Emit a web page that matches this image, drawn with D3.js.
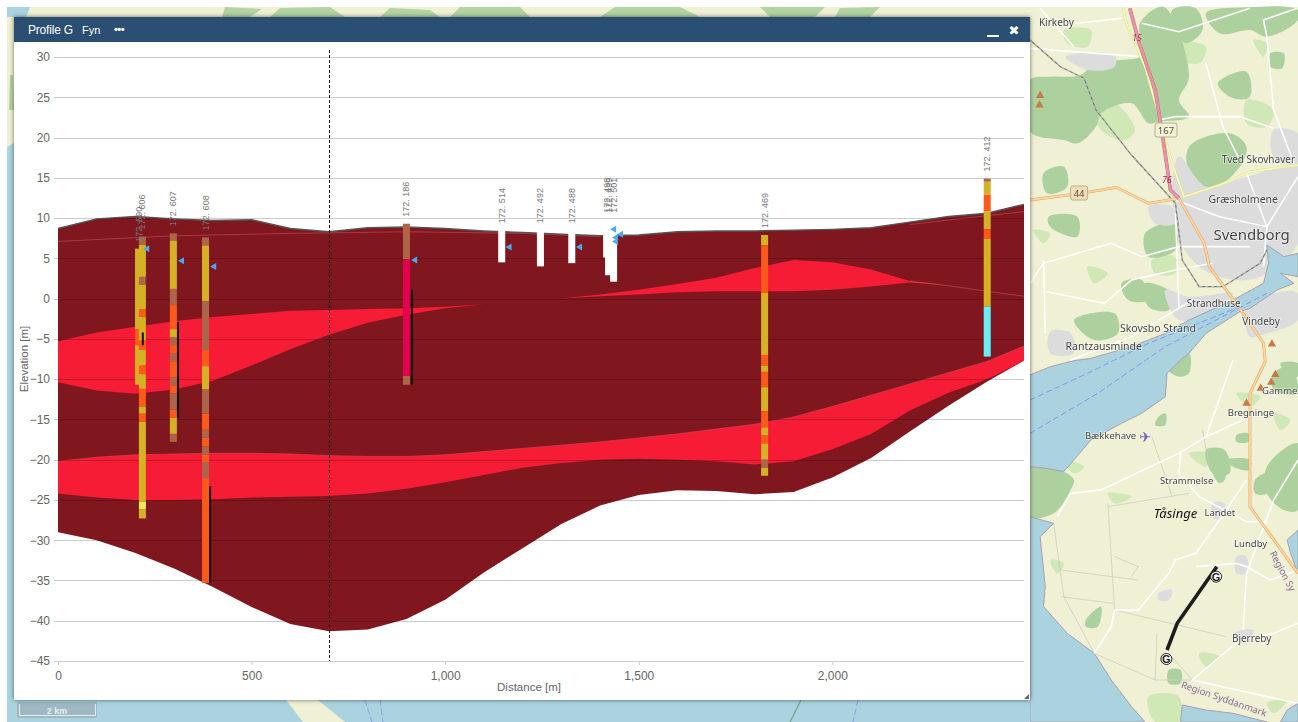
<!DOCTYPE html>
<html>

<head>
    <meta charset="utf-8">
    <title>Profile G Fyn</title>
    <script src="https://d3js.org/d3.v7.min.js" charset="utf-8"></script>
    <style>
        html,
        body {
            margin: 0;
            padding: 0;
            background: #fff;
            overflow: hidden;
        }

        svg {
            display: block;
            font-family: "Liberation Sans", Arial, sans-serif;
        }
    </style>
</head>

<body>
    <div id="chart"></div>

    <script>
        // ---- profile data, elevations in metres ----
        const distances = [0, 100, 200, 300, 400, 500, 600, 700, 800, 900, 1000, 1100, 1200, 1300, 1400, 1500, 1600, 1700, 1800, 1900, 2000, 2100, 2200, 2300, 2400, 2495];
        const surfaceElev = [8.7, 9.9, 10.2, 9.9, 9.7, 9.8, 8.7, 8.3, 8.8, 8.9, 8.7, 8.4, 8.2, 8.0, 7.8, 7.9, 8.3, 8.4, 8.4, 8.5, 8.6, 8.8, 9.5, 10.2, 10.6, 11.7];
        const baseElev = [-29, -30, -31.6, -33.5, -35.8, -38.3, -40.4, -41.3, -41.1, -39.8, -37.4, -34, -31, -28, -25.7, -24.4, -23.8, -23.9, -24.3, -24, -22.2, -19.8, -16.5, -13.3, -10.3, -7.7];
        const upperLensTop = [-5.3, -4.2, -3.5, -2.8, -2.3, -1.9, -1.5, -1.4, -1.3, -1.2, -1, -0.7, -0.3, 0, 0.5, 1.1, 1.8, 2.6, 3.8, 4.8, 4.5, 3.6, 2.2, 1.6, 0.9, 0.3];
        const upperLensBottom = [-10.4, -11.4, -11.8, -11.3, -10.2, -8.3, -6.3, -4.5, -3, -2, -1.2, -0.7, -0.3, 0, 0.3, 0.5, 0.8, 0.9, 0.9, 0.9, 1.1, 1.5, 2.0, 1.6, 0.9, 0.3];
        const lowerLensTop = [-20.2, -19.7, -19.4, -19.3, -19.2, -19.2, -19.3, -19.5, -19.6, -19.6, -19.4, -19, -18.6, -18.2, -17.8, -17.3, -16.8, -16.2, -15.6, -14.7, -13.4, -12, -10.6, -9.2, -7.8, -5.9];
        const lowerLensBottom = [-24.2, -24.7, -25, -25, -24.9, -24.7, -24.6, -24.5, -24.2, -23.6, -22.8, -21.9, -21, -20.4, -20, -19.9, -20, -20.2, -20.6, -20.2, -18.7, -16.8, -13.9, -11.7, -10, -7.7];

        // faint layer seams inside the dark unit
        const seamDistances = [0, 300, 600, 900, 1200, 1400];
        const seamElev = [7.1, 7.8, 8.1, 8.3, 8.1, 7.7];
        const eastSeamDistances = [2200, 2400, 2495];
        const eastSeamElev = [9.2, 10.3, 10.8];

        const xTicks = [0, 500, 1000, 1500, 2000];
        const yTicks = [30, 25, 20, 15, 10, 5, 0, -5, -10, -15, -20, -25, -30, -35, -40, -45];
        const cursorDistance = 700;

        // boreholes: levels are the interval boundaries, one soil code per interval
        const bh590Levels = [6.2, -3.8, -5.8, -10.7];
        const bh590Soils = ["Y", "O", "Y"];
        const bh606Levels = [7.7, 6.65, 2.7, 1.7, -1.3, -2.3, -5.2, -6.4, -8.3, -9.4, -11.2, -13.4, -14.3, -15.3, -25.2, -26.2, -27.3];
        const bh606Soils = ["B", "Y", "B", "Y", "O", "Y", "O", "Y", "O", "Y", "O", "Y", "O", "Y", "P", "Y"];
        const bh607Levels = [8.1, 7.2, 1.2, -0.8, -3.8, -4.8, -5.8, -6.8, -7.8, -9.8, -10.8, -11.8, -13.8, -14.8, -16.8, -17.8];
        const bh607Soils = ["B", "Y", "B", "O", "Y", "B", "O", "B", "O", "B", "O", "B", "O", "Y", "B"];
        const bh608Levels = [7.6, 6.6, -0.3, -6.4, -8.4, -11.3, -14.3, -16.3, -17.3, -18.4, -19.4, -20.3, -22.3, -35.3];
        const bh608Soils = ["B", "Y", "B", "O", "Y", "B", "O", "B", "O", "B", "O", "B", "O"];
        const bh186Levels = [9.3, 4.9, -9.6, -10.7];
        const bh186Soils = ["B", "M", "B"];
        const bh469Levels = [7.9, 6.6, 0.7, -7, -8.3, -9.1, -11, -14, -16, -17, -18, -20, -21, -22];
        const bh469Soils = ["Y", "O", "Y", "O", "Y", "O", "Y", "O", "Y", "O", "Y", "B", "Y"];
        const bh412Levels = [14.9, 14.5, 12.9, 10.8, 8.6, 7.4, -1, -7.2];
        const bh412Soils = ["B", "Y", "O", "Y", "O", "Y", "C"];

        const boreholes = [
            { name: "172. 590", dist: 208, levels: bh590Levels, soils: bh590Soils },
            { name: "172. 606", dist: 218, levels: bh606Levels, soils: bh606Soils },
            { name: "172. 607", dist: 298, levels: bh607Levels, soils: bh607Soils },
            { name: "172. 608", dist: 381, levels: bh608Levels, soils: bh608Soils },
            { name: "172. 186", dist: 900, levels: bh186Levels, soils: bh186Soils },
            { name: "172. 514", dist: 1146, levels: [8.5, 4.5], soils: ["W"] },
            { name: "172. 492", dist: 1246, levels: [8.5, 4.0], soils: ["W"] },
            { name: "172. 488", dist: 1327, levels: [8.5, 4.4], soils: ["W"] },
            { name: "172. 498", dist: 1417, levels: [9.8, 5.1], soils: ["W"] },
            { name: "172. 499", dist: 1422, levels: [9.8, 2.9], soils: ["W"] },
            { name: "172. 501", dist: 1435, levels: [9.8, 2.1], soils: ["W"] },
            { name: "172. 469", dist: 1825, levels: bh469Levels, soils: bh469Soils },
            { name: "172. 412", dist: 2400, levels: bh412Levels, soils: bh412Soils }
        ];

        // screens drawn as thin black bars next to the columns
        const screenDist = [219, 310, 393, 914];
        const screenTop = [-4.2, -2.9, -23.3, 1.1];
        const screenBottom = [-5.8, -14.8, -35.3, -10.7];

        // water levels (blue markers)
        const waterDist = [220, 310, 393, 912, 1156, 1338, 1426, 1431, 1444, 1431];
        const waterElev = [6.2, 4.7, 4.0, 4.8, 6.4, 6.4, 8.6, 7.6, 8.0, 7.1];

        const soilColors = { Y: "#d4b224", O: "#fa5a1a", B: "#ac6549", M: "#e2004f", C: "#66f0f6", P: "#f6e75a", W: "#ffffff" };

        // ---- background map, in the units of the map sheet (792 wide, 2166 high) ----
        const seaPolys = [
            [[0, 1125], [60, 1100], [130, 1082], [180, 1075], [300, 1040], [400, 1000], [470, 960], [600, 900], [690, 850], [705, 790], [700, 735], [750, 770], [792, 760], [792, 830], [740, 820], [780, 850], [730, 870], [650, 925], [620, 935], [520, 1000], [470, 1060], [445, 1080], [405, 1120], [400, 1190], [330, 1240], [270, 1270], [180, 1320], [100, 1415], [50, 1405], [0, 1400]],
            [[0, 1550], [70, 1570], [30, 1610], [45, 1760], [40, 1820], [110, 1900], [190, 1960], [240, 2040], [300, 2120], [340, 2166], [0, 2166]],
            [[445, 2166], [450, 2115], [520, 2130], [600, 2140], [700, 2166]],
            [[792, 2110], [760, 2130], [740, 2166], [792, 2166]],
            [[792, 1720], [770, 1660], [760, 1620], [792, 1590]]
        ];
        const forestPolys = [
            [[60, 230], [150, 225], [200, 180], [270, 180], [330, 165], [325, 70], [395, 20], [470, 230], [440, 300], [470, 350], [380, 365], [350, 370], [300, 310], [210, 340], [195, 380], [140, 430], [100, 420], [0, 395], [0, 240]],
            [[420, 30], [490, 25], [510, 90], [460, 130], [430, 90]],
            [[520, 40], [640, 22], [792, 30], [792, 60], [700, 110], [650, 90], [560, 100]],
            [[555, 250], [640, 215], [650, 290], [600, 295]],
            [[470, 440], [590, 400], [640, 440], [620, 500], [570, 550], [500, 590], [470, 530]],
            [[100, 500], [40, 520], [50, 580], [110, 560]],
            [[55, 650], [140, 650], [140, 710], [60, 680]],
            [[340, 700], [425, 670], [430, 750], [350, 770]],
            [[270, 850], [330, 840], [350, 900], [290, 900]],
            [[340, 850], [420, 880], [410, 930], [350, 920]],
            [[130, 960], [250, 940], [260, 1000], [190, 1020]],
            [[710, 160], [750, 160], [745, 205], [710, 200]],
            [[0, 1400], [100, 1415], [130, 1440], [120, 1470], [70, 1540], [0, 1550]],
            [[410, 1110], [470, 1060], [470, 1120], [440, 1130]],
            [[540, 1395], [580, 1390], [575, 1440], [560, 1450], [540, 1420]],
            [[580, 1380], [650, 1380], [650, 1410], [600, 1400]],
            [[700, 1400], [792, 1330], [792, 1530], [750, 1530], [700, 1480]],
            [[665, 1440], [700, 1420], [700, 1480], [665, 1480]],
            [[165, 1860], [210, 1820], [200, 1880], [165, 1880]],
            [[410, 2010], [445, 2010], [445, 2050], [410, 2050]],
            [[380, 1250], [400, 1240], [400, 1275], [370, 1275]],
            [[610, 1305], [645, 1300], [645, 1325], [610, 1325]],
            [[720, 1120], [770, 1100], [790, 1180], [720, 1170]],
            [[520, 1350], [575, 1350], [590, 1420], [540, 1420]],
            [[740, 1090], [792, 1090], [792, 1130], [760, 1120]]
        ];
        const meadowPolys = [
            [[190, 320], [250, 310], [310, 390], [280, 420], [210, 390]],
            [[640, 300], [720, 330], [700, 380], [640, 370]],
            [[100, 90], [180, 90], [170, 140], [110, 130]],
            [[360, 780], [430, 770], [430, 820], [370, 820]],
            [[350, 2090], [440, 2090], [440, 2166], [370, 2166]],
            [[230, 1480], [300, 1490], [250, 1510]],
            [[470, 1360], [530, 1360], [520, 1400]],
            [[610, 1180], [680, 1190], [650, 1220]],
            [[440, 130], [520, 140], [500, 190], [450, 180]],
            [[660, 120], [700, 130], [690, 170]],
            [[10, 690], [60, 700], [40, 730]],
            [[170, 800], [230, 820], [190, 850]],
            [[100, 1380], [160, 1400], [130, 1420]],
            [[720, 1240], [770, 1260], [740, 1290]],
            [[60, 1680], [100, 1690], [80, 1720]],
            [[500, 1960], [560, 1970], [520, 2000]],
            [[700, 2110], [760, 2100], [720, 2140]]
        ];
        const builtPolys = [
            [[440, 470], [520, 560], [640, 530], [792, 500], [792, 730], [700, 820], [640, 840], [560, 830], [500, 800], [440, 720], [430, 640], [420, 600]],
            [[720, 390], [792, 400], [792, 490], [720, 470]],
            [[350, 620], [420, 620], [430, 670], [370, 670]],
            [[105, 170], [250, 165], [250, 200], [170, 210]],
            [[60, 995], [120, 1000], [130, 1060], [60, 1060]],
            [[640, 920], [720, 880], [792, 880], [792, 960], [700, 1000], [650, 1010]],
            [[400, 870], [470, 890], [600, 880], [520, 940], [440, 960]],
            [[540, 1510], [575, 1510], [565, 1555], [540, 1555]],
            [[610, 1670], [640, 1670], [640, 1720], [610, 1720]],
            [[380, 1780], [420, 1770], [410, 1800], [380, 1800]],
            [[600, 1900], [660, 1890], [640, 1930]]
        ];
        const whiteRoads = [
            [[0, 145], [330, 170]], [[30, 25], [130, 140]], [[90, 75], [270, 55]], [[330, 70], [440, 95], [650, 25]],
            [[790, 25], [690, 60], [700, 110], [720, 330], [780, 490]], [[520, 190], [570, 380], [620, 480]],
            [[380, 360], [430, 350], [620, 350], [720, 385]], [[0, 850], [40, 790], [240, 730], [330, 770], [440, 740], [650, 740]],
            [[50, 875], [220, 910], [300, 840], [430, 810], [540, 790]], [[430, 640], [440, 920]], [[120, 1080], [300, 1010], [480, 900]],
            [[40, 780], [45, 1000]], [[640, 520], [700, 680], [690, 800]], [[792, 530], [700, 680], [560, 650], [430, 600]],
            [[600, 1080], [520, 1310], [440, 1360], [210, 1470], [120, 1480], [80, 1550]], [[650, 1250], [520, 1310]],
            [[640, 1440], [560, 1560], [490, 1660], [430, 1680], [410, 1720], [320, 1830], [250, 1830], [240, 1880], [190, 1960]],
            [[490, 1700], [610, 1690], [640, 1700], [710, 1740], [792, 1710]], [[445, 1360], [440, 1420], [500, 1490], [640, 1565], [700, 1565]],
            [[792, 1380], [720, 1500], [640, 1720], [630, 1890]], [[792, 1870], [720, 1900], [620, 1920], [480, 2040], [790, 2110]]
        ];
        const thinRoads = [
            [[230, 1520], [470, 1480]], [[90, 1710], [320, 1740]], [[90, 1790], [245, 1810]], [[70, 1570], [100, 1790], [190, 1960]],
            [[230, 1510], [250, 1830]], [[250, 1830], [580, 1910]], [[190, 1960], [370, 2040], [480, 2040]], [[370, 2040], [375, 1900]],
            [[410, 1960], [480, 2040]], [[250, 1670], [320, 1700], [300, 1730]], [[360, 1310], [420, 1490]], [[510, 1290], [530, 1400]]
        ];
        const trunkRoad = [[295, 25], [320, 120], [370, 270], [395, 430], [415, 570], [440, 595]];
        const secondaryRoad = [[275, 25], [285, 70], [340, 200], [385, 360], [420, 490], [455, 590], [560, 555], [650, 515], [792, 495]];
        const primaryRoad = [[0, 600], [150, 580], [255, 562], [350, 610], [440, 595], [515, 730], [530, 800], [630, 940], [690, 1030], [695, 1085], [650, 1180], [650, 1520], [792, 1720]];
        const railLine = [[0, 120], [90, 200], [160, 235], [195, 330], [300, 465], [430, 610], [450, 780], [500, 860], [570, 860], [680, 790], [700, 750]];
        const ferryLines = [
            [[0, 1300], [200, 1180], [400, 1040], [700, 880]],
            [[0, 1200], [180, 1115], [350, 1030], [620, 920]]
        ];
        const profileLine = [[552, 1700], [435, 1870], [405, 1950]];
        const profileEnds = [[403, 1977], [550, 1730]];
        const peaks = [[30, 287], [28, 315], [715, 1032], [725, 1124], [713, 1147], [682, 1165], [640, 1210]];

        const placeNames = [
            ["Kirkeby", 78, 67, 10], ["Tved Skovhaver", 675, 478, 10], ["Græsholmene", 630, 597, 10.5], ["Svendborg", 655, 703, 15],
            ["Strandhuse", 543, 910, 10], ["Skovsbo Strand", 378, 985, 10.5], ["Vindeby", 683, 965, 10], ["Rantzausminde", 218, 1038, 10.5],
            ["Bækkehave", 238, 1308, 9.5], ["Bregninge", 653, 1238, 9.5], ["Gamme", 738, 1172, 9.5], ["Strammelse", 463, 1442, 9.5],
            ["Landet", 561, 1538, 9.5], ["Lundby", 652, 1632, 9.5], ["Bjerreby", 655, 1915, 10]
        ];

        // rest of the map, showing round the dialog in page pixels
        const outerSeaWest = [[7, 147], [14, 143], [14, 700], [286, 700], [303, 722], [7, 722]];
        const outerSeaSouth = [[318, 700], [1030, 700], [1030, 722], [345, 722]];
        const outerSeaNorth = [[7, 7], [30, 7], [26, 17], [7, 17]];
        const outerForest = [
            [[225, 7], [262, 9], [250, 17], [222, 17]], [[280, 8], [330, 7], [345, 17], [270, 17]],
            [[390, 8], [430, 10], [440, 17], [380, 17]], [[460, 7], [520, 7], [530, 17], [450, 17]],
            [[615, 7], [680, 7], [700, 17], [600, 17]], [[760, 7], [825, 7], [815, 17], [770, 17]],
            [[840, 8], [880, 7], [870, 17], [835, 17]], [[13, 75], [14, 110], [9, 110], [10, 75]]
        ];

        // ---- drawing ----
        const W = 1298, H = 722;
        const svg = d3.select("#chart").append("svg").attr("width", W).attr("height", H);

        // map sheet scales
        const mapX = d3.scaleLinear().domain([0, 792]).range([1030, 1298]);
        const mapY = d3.scaleLinear().domain([0, 2166]).range([0, 722]);
        const sheetLine = d3.line().x(d => mapX(d[0])).y(d => mapY(d[1]));
        const sheetBlob = d3.line().x(d => mapX(d[0])).y(d => mapY(d[1])).curve(d3.curveCatmullRomClosed.alpha(0.5));
        const pageLine = d3.line();

        const map = svg.append("g").style("filter", "blur(0.45px)");
        map.append("rect").attr("x", 7).attr("y", 7).attr("width", W - 7).attr("height", H - 7).attr("fill", "#eff0d4");

        function polys(list, lineGen, fill, stroke) {
            map.append("g").selectAll("path").data(list).join("path")
                .attr("d", d => lineGen(d) + "Z")
                .attr("fill", fill)
                .attr("stroke", stroke || "none");
        }
        function roads(list, color, width, dash) {
            map.append("g").selectAll("path").data(list).join("path")
                .attr("d", sheetLine)
                .attr("fill", "none")
                .attr("stroke", color)
                .attr("stroke-width", width)
                .attr("stroke-dasharray", dash || null);
        }

        polys(meadowPolys, sheetBlob, "#cfe8b6");
        polys(forestPolys, sheetBlob, "#add19e");
        polys(builtPolys, sheetBlob, "#dcdcdc");
        polys(seaPolys, sheetLine, "#aad3df", "#a99fb3");
        polys([outerSeaWest, outerSeaSouth, outerSeaNorth], pageLine, "#aad3df");
        polys(outerForest, pageLine, "#b3d3a2");

        roads(thinRoads, "#c9c9bd", 0.7);
        roads(whiteRoads, "#ffffff", 1.6);
        roads([railLine], "#777777", 1.2);
        roads([railLine], "#ffffff", 0.5, "3,3");
        roads([primaryRoad], "#e8a35c", 2.8);
        roads([primaryRoad], "#fcd6a4", 1.8);
        roads([secondaryRoad], "#dcdd8a", 2.4);
        roads([secondaryRoad], "#f7fabf", 1.6);
        roads([trunkRoad], "#c06a80", 3.6);
        roads([trunkRoad], "#e892a2", 2.8);
        roads(ferryLines, "#7b86f0", 0.8, "6,3");
        map.append("path").attr("d", pageLine([[801, 700], [790, 722]])).attr("stroke", "#6fa97e").attr("stroke-width", 1.2).attr("fill", "none");
        map.append("path").attr("d", pageLine([[365, 700], [372, 722]])).attr("stroke", "#7b86f0").attr("stroke-width", 0.7).attr("stroke-dasharray", "6,3").attr("fill", "none");
        map.append("path").attr("d", pageLine([[380, 700], [383, 722]])).attr("stroke", "#7b86f0").attr("stroke-width", 0.7).attr("stroke-dasharray", "6,3").attr("fill", "none");
        map.append("path").attr("d", pageLine([[858, 700], [853, 722]])).attr("stroke", "#7b86f0").attr("stroke-width", 0.7).attr("stroke-dasharray", "6,3").attr("fill", "none");

        map.append("g").selectAll("path").data(peaks).join("path")
            .attr("d", d3.symbol(d3.symbolTriangle, 30))
            .attr("transform", d => `translate(${mapX(d[0])},${mapY(d[1])})`)
            .attr("fill", "#c77a45");

        map.append("g").selectAll("text").data(placeNames).join("text")
            .attr("x", d => mapX(d[1]))
            .attr("y", d => mapY(d[2]) + d[3] * 0.35)
            .attr("text-anchor", "middle")
            .style("font-family", "'Noto Sans', sans-serif")
            .style("font-size", d => d[3] + "px")
            .attr("fill", "#444")
            .attr("stroke", "#fff").attr("stroke-width", 1.5).attr("stroke-opacity", 0.6).attr("paint-order", "stroke")
            .text(d => d[0]);

        map.append("text").attr("x", mapX(430)).attr("y", mapY(1538) + 5).attr("text-anchor", "middle")
            .style("font-family", "'Noto Sans', sans-serif").style("font-style", "italic").style("font-size", "13px").attr("fill", "#111").text("Tåsinge");
        map.append("text").attr("transform", `translate(${mapX(570)},${mapY(2106)}) rotate(19)`).attr("text-anchor", "middle")
            .style("font-family", "'Noto Sans', sans-serif").style("font-size", "9.5px").attr("fill", "#8a6a9a").text("Region Syddanmark");
        map.append("text").attr("transform", `translate(${mapX(738)},${mapY(1718)}) rotate(62)`).attr("text-anchor", "middle")
            .style("font-family", "'Noto Sans', sans-serif").style("font-size", "9.5px").attr("fill", "#8a6a9a").text("Region Sy");
        map.append("text").attr("x", mapX(340)).attr("y", mapY(1325)).attr("text-anchor", "middle")
            .style("font-family", "'DejaVu Sans'").style("font-size", "14px").attr("fill", "#7a58c8").text("✈");

        [[167, 402, 390, 22], [44, 145, 579, 17]].forEach(s => {
            map.append("rect").attr("x", mapX(s[1]) - s[3] / 2).attr("y", mapY(s[2]) - 7).attr("width", s[3]).attr("height", 14).attr("rx", 2)
                .attr("fill", s[0] === 44 ? "#f6dcb8" : "#f2f2d8").attr("stroke", "#b8b088");
            map.append("text").attr("x", mapX(s[1])).attr("y", mapY(s[2]) + 3.5).attr("text-anchor", "middle")
                .style("font-family", "'Noto Sans', sans-serif").style("font-size", "9.5px").attr("fill", "#554").text(s[0]);
        });
        [[15, 316, 113], [76, 405, 540]].forEach(s => {
            map.append("text").attr("x", mapX(s[1])).attr("y", mapY(s[2]) + 3).attr("text-anchor", "middle")
                .style("font-family", "'Noto Sans', sans-serif").style("font-style", "italic").style("font-size", "8.5px").attr("fill", "#a02a50").text(s[0]);
        });

        // profile track on the map
        svg.append("path").attr("d", sheetLine(profileLine)).attr("fill", "none").attr("stroke", "#1d1d1d").attr("stroke-width", 3.6);
        profileEnds.forEach(p => {
            const g = svg.append("g").attr("transform", `translate(${mapX(p[0])},${mapY(p[1])})`);
            g.append("circle").attr("r", 5.5).attr("fill", "#fff").attr("stroke", "#222").attr("stroke-width", 1);
            g.append("text").attr("y", 4).attr("text-anchor", "middle").style("font-size", "11px").style("font-weight", "bold").attr("fill", "#222").text("G");
        });

        // map scale bar
        svg.append("rect").attr("x", 17).attr("y", 702).attr("width", 80).attr("height", 16).attr("rx", 2).attr("fill", "#9db8c2");
        svg.append("path").attr("d", "M19.5,704V715.5H95.5V704").attr("fill", "none").attr("stroke", "#e4eef0").attr("stroke-width", 1);
        svg.append("text").attr("x", 57).attr("y", 713.5).attr("text-anchor", "middle").style("font-size", "9px").style("font-weight", "bold").attr("fill", "#e8f0f2").text("2 km");

        // dialog
        svg.append("rect").attr("x", 14).attr("y", 17).attr("width", 1016).attr("height", 683).attr("fill", "#fff")
            .style("filter", "drop-shadow(0 0 2px rgba(0,0,0,0.55))");
        svg.append("rect").attr("x", 14).attr("y", 17).attr("width", 1016).attr("height", 25).attr("fill", "#2b4e73");
        const head = svg.append("g").attr("fill", "#fff").style("font-size", "12px");
        head.append("text").attr("x", 28).attr("y", 34).style("letter-spacing", "-0.2px").text("Profile G");
        head.append("text").attr("x", 82).attr("y", 34).style("font-size", "11px").text("Fyn");
        head.append("text").attr("x", 114).attr("y", 33).style("font-size", "11px").style("font-weight", "bold").style("letter-spacing", "-0.5px").text("•••");
        head.append("rect").attr("x", 987).attr("y", 35).attr("width", 12).attr("height", 2);
        head.append("text").attr("x", 1014).attr("y", 35).attr("text-anchor", "middle").style("font-family", "'DejaVu Sans'").style("font-size", "13px").text("✖");
        svg.append("path").attr("d", "M1029,694V699H1024Z").attr("fill", "#666");

        // chart scales
        const xScale = d3.scaleLinear().domain([0, 2495]).range([58, 1024]);
        const yScale = d3.scaleLinear().domain([30, -45]).range([57, 661]);

        const bandArea = (tops, bottoms) => d3.area()
            .x((d, i) => xScale(d))
            .y0((d, i) => yScale(bottoms[i]))
            .y1((d, i) => yScale(tops[i]));

        const chart = svg.append("g");
        chart.append("path").datum(distances).attr("fill", "#80171e").attr("d", bandArea(surfaceElev, baseElev));
        chart.append("path").datum(distances).attr("fill", "#f61c36").attr("d", bandArea(upperLensTop, upperLensBottom));
        chart.append("path").datum(distances).attr("fill", "#f61c36").attr("d", bandArea(lowerLensTop, lowerLensBottom));

        // pale seams
        const seam = d3.line().x(d => xScale(d[0])).y(d => yScale(d[1]));
        [d3.zip(seamDistances, seamElev), d3.zip(eastSeamDistances, eastSeamElev), d3.zip(distances.slice(22), upperLensTop.slice(22))].forEach(s => {
            chart.append("path").attr("d", seam(s)).attr("fill", "none").attr("stroke", "#c8545c").attr("stroke-width", 0.8).attr("stroke-opacity", 0.7);
        });
        chart.append("path").attr("d", seam(d3.zip(distances, lowerLensTop))).attr("fill", "none").attr("stroke", "#d9404f").attr("stroke-width", 0.7);

        // grid lines sit over the layers, darkening them a little
        chart.append("g").selectAll("line").data(yTicks).join("line")
            .attr("x1", xScale(0) - 4)
            .attr("x2", xScale.range()[1])
            .attr("y1", d => Math.round(yScale(d)) + 0.5)
            .attr("y2", d => Math.round(yScale(d)) + 0.5)
            .attr("stroke", "#000")
            .attr("stroke-opacity", 0.2);

        // ground line
        chart.append("path").attr("d", seam(d3.zip(distances, surfaceElev))).attr("fill", "none").attr("stroke", "#555").attr("stroke-width", 1.4);

        // axes
        const yAxis = d3.axisLeft(yScale).tickValues(yTicks).tickSize(0).tickPadding(8);
        const xAxis = d3.axisBottom(xScale).tickValues(xTicks).tickSize(4).tickPadding(6).tickFormat(d3.format(","));
        const yG = svg.append("g").attr("transform", "translate(58,0)").call(yAxis);
        const xG = svg.append("g").attr("transform", "translate(0,661)").call(xAxis);
        [yG, xG].forEach(g => {
            g.select(".domain").remove();
            g.selectAll("text").attr("fill", "#666").style("font-size", "12px").style("font-family", "'Liberation Sans', Arial, sans-serif");
            g.selectAll("line").attr("stroke", "#ccc");
        });

        svg.append("text").attr("transform", "translate(28,359) rotate(-90)").attr("text-anchor", "middle")
            .style("font-size", "11.5px").attr("fill", "#666").text("Elevation [m]");
        svg.append("text").attr("x", 529).attr("y", 691).attr("text-anchor", "middle")
            .style("font-size", "11.5px").attr("fill", "#666").text("Distance [m]");

        // boreholes
        const columnWidth = 7;
        boreholes.forEach(b => {
            const cx = xScale(b.dist);
            const g = chart.append("g");
            g.selectAll("rect").data(b.soils).join("rect")
                .attr("x", cx - columnWidth / 2)
                .attr("width", columnWidth)
                .attr("y", (d, i) => yScale(b.levels[i]))
                .attr("height", (d, i) => yScale(b.levels[i + 1]) - yScale(b.levels[i]))
                .attr("fill", d => soilColors[d]);
            svg.append("text")
                .attr("transform", `translate(${cx + 3},${yScale(b.levels[0]) - 7}) rotate(-90)`)
                .style("font-size", "9px")
                .attr("fill", "#777")
                .text(b.name);
        });

        chart.append("g").selectAll("rect").data(screenDist).join("rect")
            .attr("x", d => xScale(d) - 1)
            .attr("width", 2)
            .attr("y", (d, i) => yScale(screenTop[i]))
            .attr("height", (d, i) => yScale(screenBottom[i]) - yScale(screenTop[i]))
            .attr("fill", "#111");

        // blue water level markers pointing at the column
        chart.append("g").selectAll("path").data(waterDist).join("path")
            .attr("d", "M0,0L6,-3.5V3.5Z")
            .attr("transform", (d, i) => `translate(${xScale(d)},${yScale(waterElev[i])})`)
            .attr("fill", "#4aa8f0");

        // cursor
        svg.append("line")
            .attr("x1", Math.round(xScale(cursorDistance)) + 0.5)
            .attr("x2", Math.round(xScale(cursorDistance)) + 0.5)
            .attr("y1", 50)
            .attr("y2", 661)
            .attr("stroke", "#111")
            .attr("stroke-dasharray", "3,2");
    </script>
</body>

</html>
